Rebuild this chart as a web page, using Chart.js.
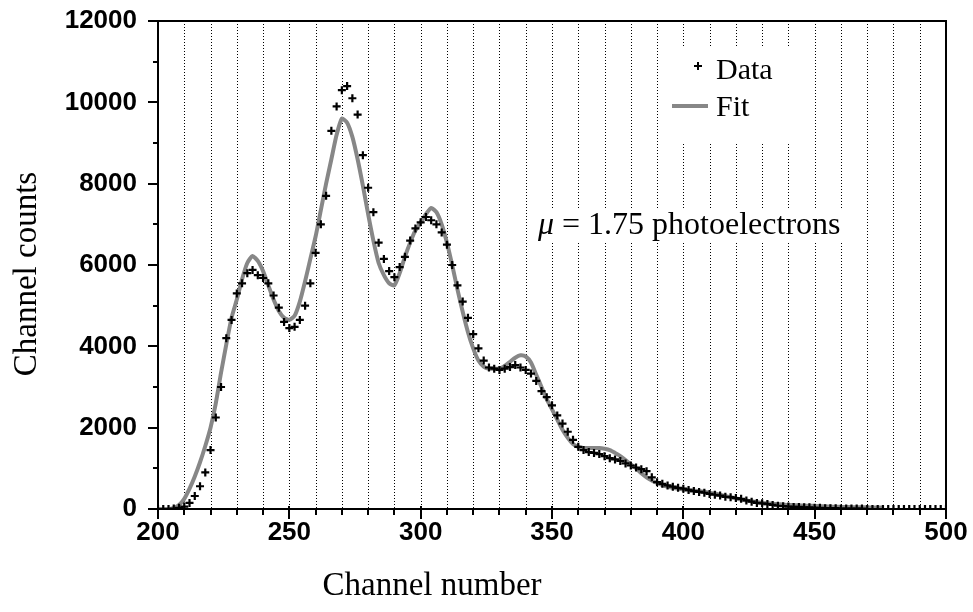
<!DOCTYPE html>
<html>
<head>
<meta charset="utf-8">
<script src="https://cdn.jsdelivr.net/npm/chart.js@4/dist/chart.umd.min.js"></script>
<style>
  html, body { margin: 0; padding: 0; background: #fff; }
  #wrap { width: 973px; height: 612px; }
</style>
</head>
<body>
<div id="wrap"><canvas id="myChart" width="973" height="612"></canvas></div>
<script>
//Data
const channels = [
  200, 202, 204, 206, 208, 210, 212, 214, 216, 218,
  220, 222, 224, 226, 228, 230, 232, 234, 236, 238,
  240, 242, 244, 246, 248, 250, 252, 254, 256, 258,
  260, 262, 264, 266, 268, 270, 272, 274, 276, 278,
  280, 282, 284, 286, 288, 290, 292, 294, 296, 298,
  300, 302, 304, 306, 308, 310, 312, 314, 316, 318,
  320, 322, 324, 326, 328, 330, 332, 334, 336, 338,
  340, 342, 344, 346, 348, 350, 352, 354, 356, 358,
  360, 362, 364, 366, 368, 370, 372, 374, 376, 378,
  380, 382, 384, 386, 388, 390, 392, 394, 396, 398,
  400, 402, 404, 406, 408, 410, 412, 414, 416, 418,
  420, 422, 424, 426, 428, 430, 432, 434, 436, 438,
  440, 442, 444, 446, 448, 450, 452, 454, 456, 458,
  460, 462, 464, 466, 468, 470, 472, 474, 476, 478,
  480, 482, 484, 486, 488, 490, 492, 494, 496, 498,
  500
]

const dataCounts = [
  0, 0, 0, 10, 30, 60, 150, 320, 560, 900,
  1450, 2250, 3000, 4200, 4650, 5300, 5550, 5800, 5880, 5750,
  5680, 5550, 5250, 4950, 4600, 4450, 4480, 4650, 5000, 5550,
  6300, 7000, 7700, 9300, 9900, 10300, 10400, 10100, 9700, 8700,
  7900, 7300, 6550, 6150, 5850, 5700, 5950, 6200, 6600, 6900,
  7050, 7180, 7100, 7000, 6800, 6500, 6000, 5500, 5100, 4700,
  4300, 3950, 3650, 3480, 3450, 3420, 3450, 3490, 3540, 3480,
  3420, 3330, 3150, 2900, 2750, 2550, 2300, 2100, 1900, 1700,
  1530, 1450, 1400, 1380, 1350, 1300, 1250, 1220, 1180, 1120,
  1070, 1020, 980, 930, 780, 660, 620, 580, 550, 520,
  500, 470, 440, 420, 400, 370, 350, 330, 300, 290,
  270, 250, 210, 180, 150, 140, 120, 100, 80, 70,
  60, 50, 50, 40, 40, 30, 30, 20, 20, 20,
  10, 10, 10, 10, 10, 0, 0, 0, 0, 0,
  0, 0, 0, 0, 0, 0, 0, 0, 0, 0,
  0
]

const fitCounts = [
  0, 0, 0, 30, 100, 250, 500, 800, 1150, 1550,
  2000, 2600, 3350, 4050, 4700, 5150, 5650, 6050, 6220, 6100,
  5850, 5500, 5150, 4870, 4700, 4650, 4750, 5100, 5600, 6150,
  6700, 7350, 8000, 8600, 9200, 9600, 9500, 9150, 8600, 7950,
  7250, 6600, 6050, 5750, 5550, 5500, 5800, 6200, 6550, 6850,
  7050, 7250, 7400, 7300, 7000, 6550, 6000, 5400, 4850, 4350,
  3950, 3650, 3500, 3450, 3450, 3450, 3520, 3620, 3720, 3780,
  3750, 3600, 3300, 3000, 2700, 2450, 2200, 1950, 1750, 1600,
  1530, 1500, 1500, 1500, 1500, 1480, 1450, 1380, 1300, 1200,
  1100, 1000, 880, 780, 700, 640, 590, 550, 520, 500,
  480, 460, 450, 440, 420, 400, 380, 350, 320, 290,
  260, 230, 210, 190, 170, 150, 140, 130, 120, 110,
  100, 95, 90, 85, 80, 75, 70, 65, 60, 55,
  50, 48, 46, 44, 42, 40, 38, 36, 34, null,
  null, null, null, null, null, null, null, null, null, null,
  null
]

const xTicks = [200, 250, 300, 350, 400, 450, 500]
const yTicks = [0, 2000, 4000, 6000, 8000, 10000, 12000]

const xTitle = 'Channel number'
const yTitle = 'Channel counts'
const legendLabels = ['Data', 'Fit']
const muLabel = ' = 1.75 photoelectrons'

const fitColor = '#878787'
const tickFont = { family: 'Liberation Sans', weight: 'bold', size: 26 }
const serif = '"Liberation Serif", "Times New Roman", serif'

//Frame, grid, ticks and texts
const framePlugin = {
  id: 'frame',
  beforeDatasetsDraw(chart) {
    const ctx = chart.ctx
    const a = chart.chartArea
    const x = chart.scales.x
    ctx.save()
    // dotted vertical grid
    ctx.strokeStyle = '#000'
    ctx.lineWidth = 1
    ctx.setLineDash([1, 2])
    x.ticks.forEach(t => {
      if (t.value <= x.min || t.value >= x.max) return
      const px = Math.round(x.getPixelForValue(t.value)) + 0.5
      ctx.beginPath()
      ctx.moveTo(px, a.top + 3)
      ctx.lineTo(px, a.bottom)
      ctx.stroke()
    })
    ctx.setLineDash([])
    // white boxes behind legend and label
    ctx.fillStyle = '#fff'
    ctx.fillRect(668, 48, 132, 95)
    ctx.fillRect(533, 209, 332, 34)
    ctx.restore()
  },
  afterDraw(chart) {
    const ctx = chart.ctx
    const a = chart.chartArea
    const x = chart.scales.x
    const y = chart.scales.y
    ctx.save()
    ctx.strokeStyle = '#000'
    ctx.lineWidth = 2
    // frame
    ctx.beginPath()
    ctx.moveTo(a.left - 10, a.top)
    ctx.lineTo(a.right, a.top)
    ctx.lineTo(a.right, a.bottom)
    ctx.moveTo(a.left, a.top)
    ctx.lineTo(a.left, a.bottom)
    ctx.lineTo(a.right, a.bottom)
    ctx.stroke()
    // x ticks
    x.ticks.forEach(t => {
      const px = Math.round(x.getPixelForValue(t.value))
      const major = t.value % 50 === 0
      ctx.beginPath()
      ctx.moveTo(px, a.bottom - (major ? 3 : 0))
      ctx.lineTo(px, a.bottom + (major ? 10 : 6))
      ctx.stroke()
    })
    // y ticks
    y.ticks.forEach(t => {
      const py = Math.round(y.getPixelForValue(t.value))
      const major = t.value % 2000 === 0
      ctx.beginPath()
      ctx.moveTo(a.left - (major ? 10 : 5), py)
      ctx.lineTo(a.left, py)
      ctx.stroke()
    })

    // axis titles
    ctx.fillStyle = '#000'
    ctx.font = '33px ' + serif
    ctx.textAlign = 'center'
    ctx.textBaseline = 'middle'
    ctx.fillText(xTitle, 432, 586)
    ctx.save()
    ctx.translate(27, 274)
    ctx.rotate(-Math.PI / 2)
    ctx.fillText(yTitle, 0, 0)
    ctx.restore()

    // legend
    ctx.textAlign = 'left'
    ctx.font = '30px ' + serif
    ctx.lineWidth = 2
    ctx.beginPath()
    ctx.moveTo(694, 66); ctx.lineTo(702, 66)
    ctx.moveTo(698, 62); ctx.lineTo(698, 70)
    ctx.stroke()
    ctx.fillText(legendLabels[0], 716, 71)
    ctx.strokeStyle = fitColor
    ctx.lineWidth = 4
    ctx.beginPath()
    ctx.moveTo(672, 106); ctx.lineTo(708, 106)
    ctx.stroke()
    ctx.fillText(legendLabels[1], 716, 108)

    // mu label
    ctx.font = 'italic 32px ' + serif
    ctx.fillText('\u03bc', 538, 226)
    const w = ctx.measureText('\u03bc').width
    ctx.font = '32px ' + serif
    ctx.fillText(muLabel, 538 + w, 226)
    ctx.restore()
  }
}

//Chart
const ctx = document.getElementById('myChart')
const myChart = new Chart(ctx, {
  type: 'scatter',
  data: {
    datasets: [
      {
        label: legendLabels[0],
        data: channels.map((c, i) => ({ x: c, y: dataCounts[i] })),
        pointStyle: 'cross',
        pointRadius: 4,
        pointBorderWidth: 2.2,
        borderColor: '#000',
        backgroundColor: '#000',
        showLine: false,
        order: 0,
      },
      {
        label: legendLabels[1],
        data: channels.map((c, i) => ({ x: c, y: fitCounts[i] })),
        showLine: true,
        pointRadius: 0,
        borderColor: fitColor,
        borderWidth: 4,
        tension: 0.2,
        spanGaps: false,
        order: 1,
      },
    ],
  },
  options: {
    responsive: false,
    animation: false,
    devicePixelRatio: 1,
    layout: { padding: { top: 21, right: 27, left: 0, bottom: 0 } },
    plugins: {
      legend: { display: false },
      tooltip: { enabled: false },
    },
    scales: {
      x: {
        type: 'linear',
        min: 200,
        max: 500,
        grid: { display: false, drawTicks: false },
        border: { display: false },
        ticks: {
          stepSize: 10,
          autoSkip: false,
          maxRotation: 0,
          padding: 8,
          color: '#000',
          font: tickFont,
          callback: v => xTicks.includes(v) ? String(v) : '',
        },
        afterFit: s => { s.height = 103; s.paddingLeft = 0; s.paddingRight = 0 },
      },
      y: {
        min: 0,
        max: 12000,
        grid: { display: false, drawTicks: false },
        border: { display: false },
        ticks: {
          stepSize: 1000,
          autoSkip: false,
          padding: 21,
          color: '#000',
          font: tickFont,
          callback: v => yTicks.includes(v) ? String(v) : '',
        },
        afterFit: s => { s.width = 158; s.paddingTop = 0; s.paddingBottom = 0 },
      },
    },
  },
  plugins: [framePlugin],
})
</script>
</body>
</html>
